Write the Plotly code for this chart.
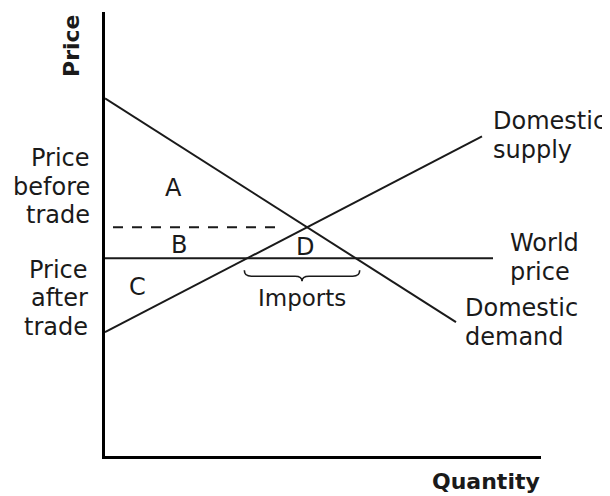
import plotly.graph_objects as go

# ---- data (arbitrary units: quantity / price) ----
demand_q = [0, 351]
demand_p = [358, 134]
supply_q = [0, 377]
supply_p = [124, 320]
world_price = 198
world_q = [0, 388]

INK = "#1a1a1a"
FONT = "DejaVu Sans"

def line_at(q, p, y):
    slope = (p[1] - p[0]) / (q[1] - q[0])
    return q[0] + (y - p[0]) / slope

# pre-trade equilibrium
sd = (demand_p[1] - demand_p[0]) / (demand_q[1] - demand_q[0])
ss = (supply_p[1] - supply_p[0]) / (supply_q[1] - supply_q[0])
eq_q = (supply_p[0] - demand_p[0]) / (sd - ss)
eq_p = demand_p[0] + sd * eq_q

# quantities at world price
qs_world = line_at(supply_q, supply_p, world_price)
qd_world = line_at(demand_q, demand_p, world_price)

# ---- layout geometry ----
W, H = 610, 496
ML, MR, MT, MB = 97, 77, 4, 47.5
PW, PH = W - ML - MR, H - MT - MB
OFF = 8  # page offset of the plot div

fig = go.Figure()
line_style = dict(color=INK, width=2)
fig.add_trace(go.Scatter(x=demand_q, y=demand_p, mode="lines", line=line_style, hoverinfo="skip"))
fig.add_trace(go.Scatter(x=supply_q, y=supply_p, mode="lines", line=line_style, hoverinfo="skip"))
fig.add_trace(go.Scatter(x=world_q, y=[world_price, world_price], mode="lines", line=line_style, hoverinfo="skip"))
fig.add_trace(go.Scatter(x=[8, eq_q - 32], y=[eq_p, eq_p], mode="lines",
                         line=dict(color=INK, width=2, dash="10px,9px"), hoverinfo="skip"))

# brace under imports
x0 = qs_world - 3
x1 = qd_world + 4
mid = (x0 + x1) / 2
top, bar, tip = world_price - 12, world_price - 18, world_price - 23
path = (f"M {x0},{top} Q {x0},{bar} {x0+7},{bar} L {mid-7},{bar} Q {mid},{bar} {mid},{tip} "
        f"Q {mid},{bar} {mid+7},{bar} L {x1-7},{bar} Q {x1},{bar} {x1},{top}")
fig.add_shape(type="path", path=path, xref="x", yref="y", line=dict(color=INK, width=1.6))

def px(xp):
    return (xp - OFF - ML) / PW

def py(yp):
    return (H - MB - (yp - OFF)) / PH

def label(text, x, y, xanchor="center", size=24, bold=False, angle=0):
    fig.add_annotation(text=f"<b>{text}</b>" if bold else text, x=px(x), y=py(y),
                       xref="paper", yref="paper",
                       xanchor=xanchor, yanchor="middle", showarrow=False, textangle=angle,
                       font=dict(family=FONT, size=size, color=INK))

# left labels
for t, y in [("Price", 158), ("before", 187), ("trade", 215)]:
    label(t, 92, y, "right")
for t, y in [("Price", 270), ("after", 298), ("trade", 327)]:
    label(t, 90, y, "right")

# area labels
label("A", 173, 188)
label("B", 179, 245)
label("C", 137, 287)
label("D", 305, 247)
label("Imports", 302, 298, size=23)

# curve labels
label("Domestic", 491, 121, "left")
label("supply", 491, 150, "left")
label("World", 508, 243, "left")
label("price", 508, 272, "left")
label("Domestic", 463, 308, "left")
label("demand", 463, 337, "left")

# axis titles
label("Price", 72, 46, bold=True, size=22, angle=-90)
label("Quantity", 542, 482, "right", bold=True, size=22)

axis = dict(showgrid=False, zeroline=False, showticklabels=False, ticks="",
            showline=True, linecolor="black", linewidth=3)
fig.update_xaxes(range=[0, PW], **axis)
fig.update_yaxes(range=[0, PH], **axis)
fig.update_layout(width=W, height=H, margin=dict(l=ML, r=MR, t=MT, b=MB),
                  showlegend=False, plot_bgcolor="white", paper_bgcolor="white")

fig.write_html("out.html")
